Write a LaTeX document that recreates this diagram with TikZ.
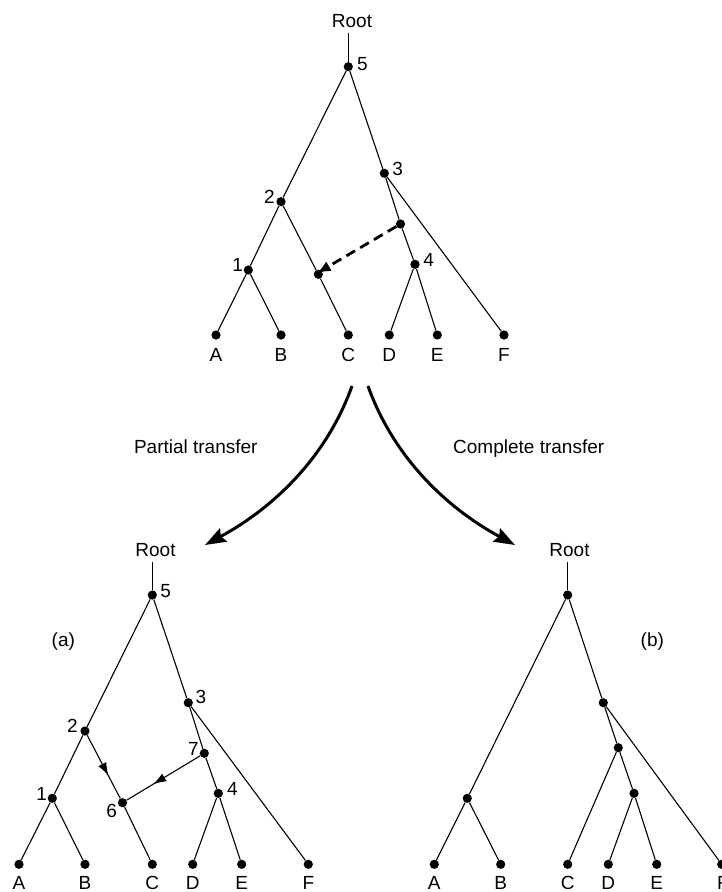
\documentclass[tikz,border=0pt]{standalone}
\usepackage{fontspec}
\setmainfont{Liberation Sans}
\usetikzlibrary{arrows.meta,decorations.markings}
\begin{document}
\begin{tikzpicture}[x=1pt,y=-1pt,
  dot/.style={circle,fill=black,inner sep=0pt,minimum size=9.2pt},
  txt/.style={inner sep=0pt,font=\fontsize{19}{22}\selectfont,text height=13.6pt,text depth=0pt},
  edge/.style={line width=1.1pt},
  bigarrow/.style={line width=3pt,-{Stealth[length=21pt,width=15pt,inset=3pt]}},
  dasharrow/.style={line width=2.8pt,dash pattern=on 10pt off 6pt,-{Latex[length=14pt,width=11pt]}},
  midarrow/.style={edge,postaction={decorate},decoration={markings,mark=at position 0.64 with {\arrow{Latex[length=13pt,width=9pt]}}}}
]
\path[use as bounding box] (0,0) rectangle (722,892);

% ---------- top tree ----------
\node[txt] (troot) at (352,20.5) {Root};
\coordinate (t5top) at (348.3,32.5);
\node[dot] (t5) at (348.3,66.7) {};
\node[dot] (t3) at (384.3,173.3) {};
\node[dot] (t2) at (281,201.7) {};
\node[dot] (tx) at (400.5,224) {};
\node[dot] (t4) at (415,264.3) {};
\node[dot] (t1) at (248.3,270) {};
\node[dot] (ty) at (318.3,274.3) {};
\node[dot] (tA) at (216,335) {};
\node[dot] (tB) at (281,335) {};
\node[dot] (tC) at (348.3,335) {};
\node[dot] (tD) at (389.3,335) {};
\node[dot] (tE) at (437.3,335) {};
\node[dot] (tF) at (504,335) {};
\node[txt] (tlA) at (216,355) {A};
\node[txt] (tlB) at (281,355) {B};
\node[txt] (tlC) at (348.3,355) {C};
\node[txt] (tlD) at (389.3,355) {D};
\node[txt] (tlE) at (437.3,355) {E};
\node[txt] (tlF) at (504,355) {F};
\node[txt] (tn5) at (362.3,63.3) {5};
\node[txt] (tn3) at (397.7,168.3) {3};
\node[txt] (tn2) at (269.3,196.7) {2};
\node[txt] (tn4) at (428.7,260) {4};
\node[txt] (tn1) at (237.7,264.3) {1};
\draw[edge] (t5top) -- (t5);
\draw[edge] (t5) -- (t2);
\draw[edge] (t5) -- (t3);
\draw[edge] (t2) -- (t1);
\draw[edge] (t2) -- (ty);
\draw[edge] (ty) -- (tC);
\draw[edge] (t1) -- (tA);
\draw[edge] (t1) -- (tB);
\draw[edge] (t3) -- (tx);
\draw[edge] (tx) -- (t4);
\draw[edge] (t3) -- (tF);
\draw[edge] (t4) -- (tD);
\draw[edge] (t4) -- (tE);
\draw[dasharrow] (tx) -- ([xshift=-1.5pt,yshift=1pt]ty.center);

% ---------- transfer arrows ----------
\coordinate (as1) at (352,386);
\coordinate (ae1) at (205,545);
\coordinate (as2) at (368,386);
\coordinate (ae2) at (515,545);
\draw[bigarrow] (as1) .. controls (327,456) and (275,507) .. (ae1);
\draw[bigarrow] (as2) .. controls (393,456) and (445,507) .. (ae2);
\node[txt] (ptxt) at (195.8,446.7) {Partial transfer};
\node[txt] (ctxt) at (528.7,446.7) {Complete transfer};

% ---------- bottom left tree (a) ----------
\node[txt] (lroot) at (155.5,550) {Root};
\coordinate (l5top) at (152.3,561.5);
\node[dot] (l5) at (152.3,595) {};
\node[dot] (l3) at (188.3,702.7) {};
\node[dot] (l2) at (85,731) {};
\node[dot] (l7) at (204.3,753.3) {};
\node[dot] (l4) at (218.3,793.3) {};
\node[dot] (l1) at (52.3,798.3) {};
\node[dot] (l6) at (122.5,802.7) {};
\node[dot] (lA) at (19,864.3) {};
\node[dot] (lB) at (85,864.3) {};
\node[dot] (lC) at (152.3,864.3) {};
\node[dot] (lD) at (192.7,864.3) {};
\node[dot] (lE) at (241.7,864.3) {};
\node[dot] (lF) at (308.3,864.3) {};
\node[txt] (llA) at (19,882.6) {A};
\node[txt] (llB) at (85,882.6) {B};
\node[txt] (llC) at (152.3,882.6) {C};
\node[txt] (llD) at (192.7,882.6) {D};
\node[txt] (llE) at (241.7,882.6) {E};
\node[txt] (llF) at (308.3,882.6) {F};
\node[txt] (ln5) at (165.7,591) {5};
\node[txt] (ln3) at (201,696.7) {3};
\node[txt] (ln2) at (72.3,725.7) {2};
\node[txt] (ln7) at (193.3,748.3) {7};
\node[txt] (ln4) at (232.3,788.3) {4};
\node[txt] (ln1) at (41.7,793.3) {1};
\node[txt] (ln6) at (111.7,810.7) {6};
\node[txt] (la) at (63.3,639.5) {(a)};
\draw[edge] (l5top) -- (l5);
\draw[edge] (l5) -- (l2);
\draw[edge] (l5) -- (l3);
\draw[edge] (l2) -- (l1);
\draw[midarrow] (l2) -- (l6);
\draw[edge] (l6) -- (lC);
\draw[edge] (l1) -- (lA);
\draw[edge] (l1) -- (lB);
\draw[edge] (l3) -- (l7);
\draw[edge] (l7) -- (l4);
\draw[midarrow] (l7) -- (l6);
\draw[edge] (l3) -- (lF);
\draw[edge] (l4) -- (lD);
\draw[edge] (l4) -- (lE);

% ---------- bottom right tree (b) ----------
\node[txt] (rroot) at (569.5,550) {Root};
\coordinate (r5top) at (567.7,561.5);
\node[dot] (r5) at (567.7,595) {};
\node[dot] (r3) at (603.3,702.7) {};
\node[dot] (r7) at (618.3,747.7) {};
\node[dot] (r4) at (634,793.3) {};
\node[dot] (r1) at (467.3,798.3) {};
\node[dot] (rA) at (434.3,864.3) {};
\node[dot] (rB) at (500.7,864.3) {};
\node[dot] (rC) at (567.7,864.3) {};
\node[dot] (rD) at (608.3,864.3) {};
\node[dot] (rE) at (656.7,864.3) {};
\node[dot] (rF) at (721.7,864.3) {};
\node[txt] (rlA) at (434.3,882.6) {A};
\node[txt] (rlB) at (500.7,882.6) {B};
\node[txt] (rlC) at (567.7,882.6) {C};
\node[txt] (rlD) at (608.3,882.6) {D};
\node[txt] (rlE) at (656.7,882.6) {E};
\node[txt] (rlF) at (723,882.6) {F};
\node[txt] (lb) at (652.3,639.5) {(b)};
\draw[edge] (r5top) -- (r5);
\draw[edge] (r5) -- (r1);
\draw[edge] (r5) -- (r3);
\draw[edge] (r1) -- (rA);
\draw[edge] (r1) -- (rB);
\draw[edge] (r3) -- (r7);
\draw[edge] (r3) -- (rF);
\draw[edge] (r7) -- (rC);
\draw[edge] (r7) -- (r4);
\draw[edge] (r4) -- (rD);
\draw[edge] (r4) -- (rE);
\end{tikzpicture}
\end{document}
